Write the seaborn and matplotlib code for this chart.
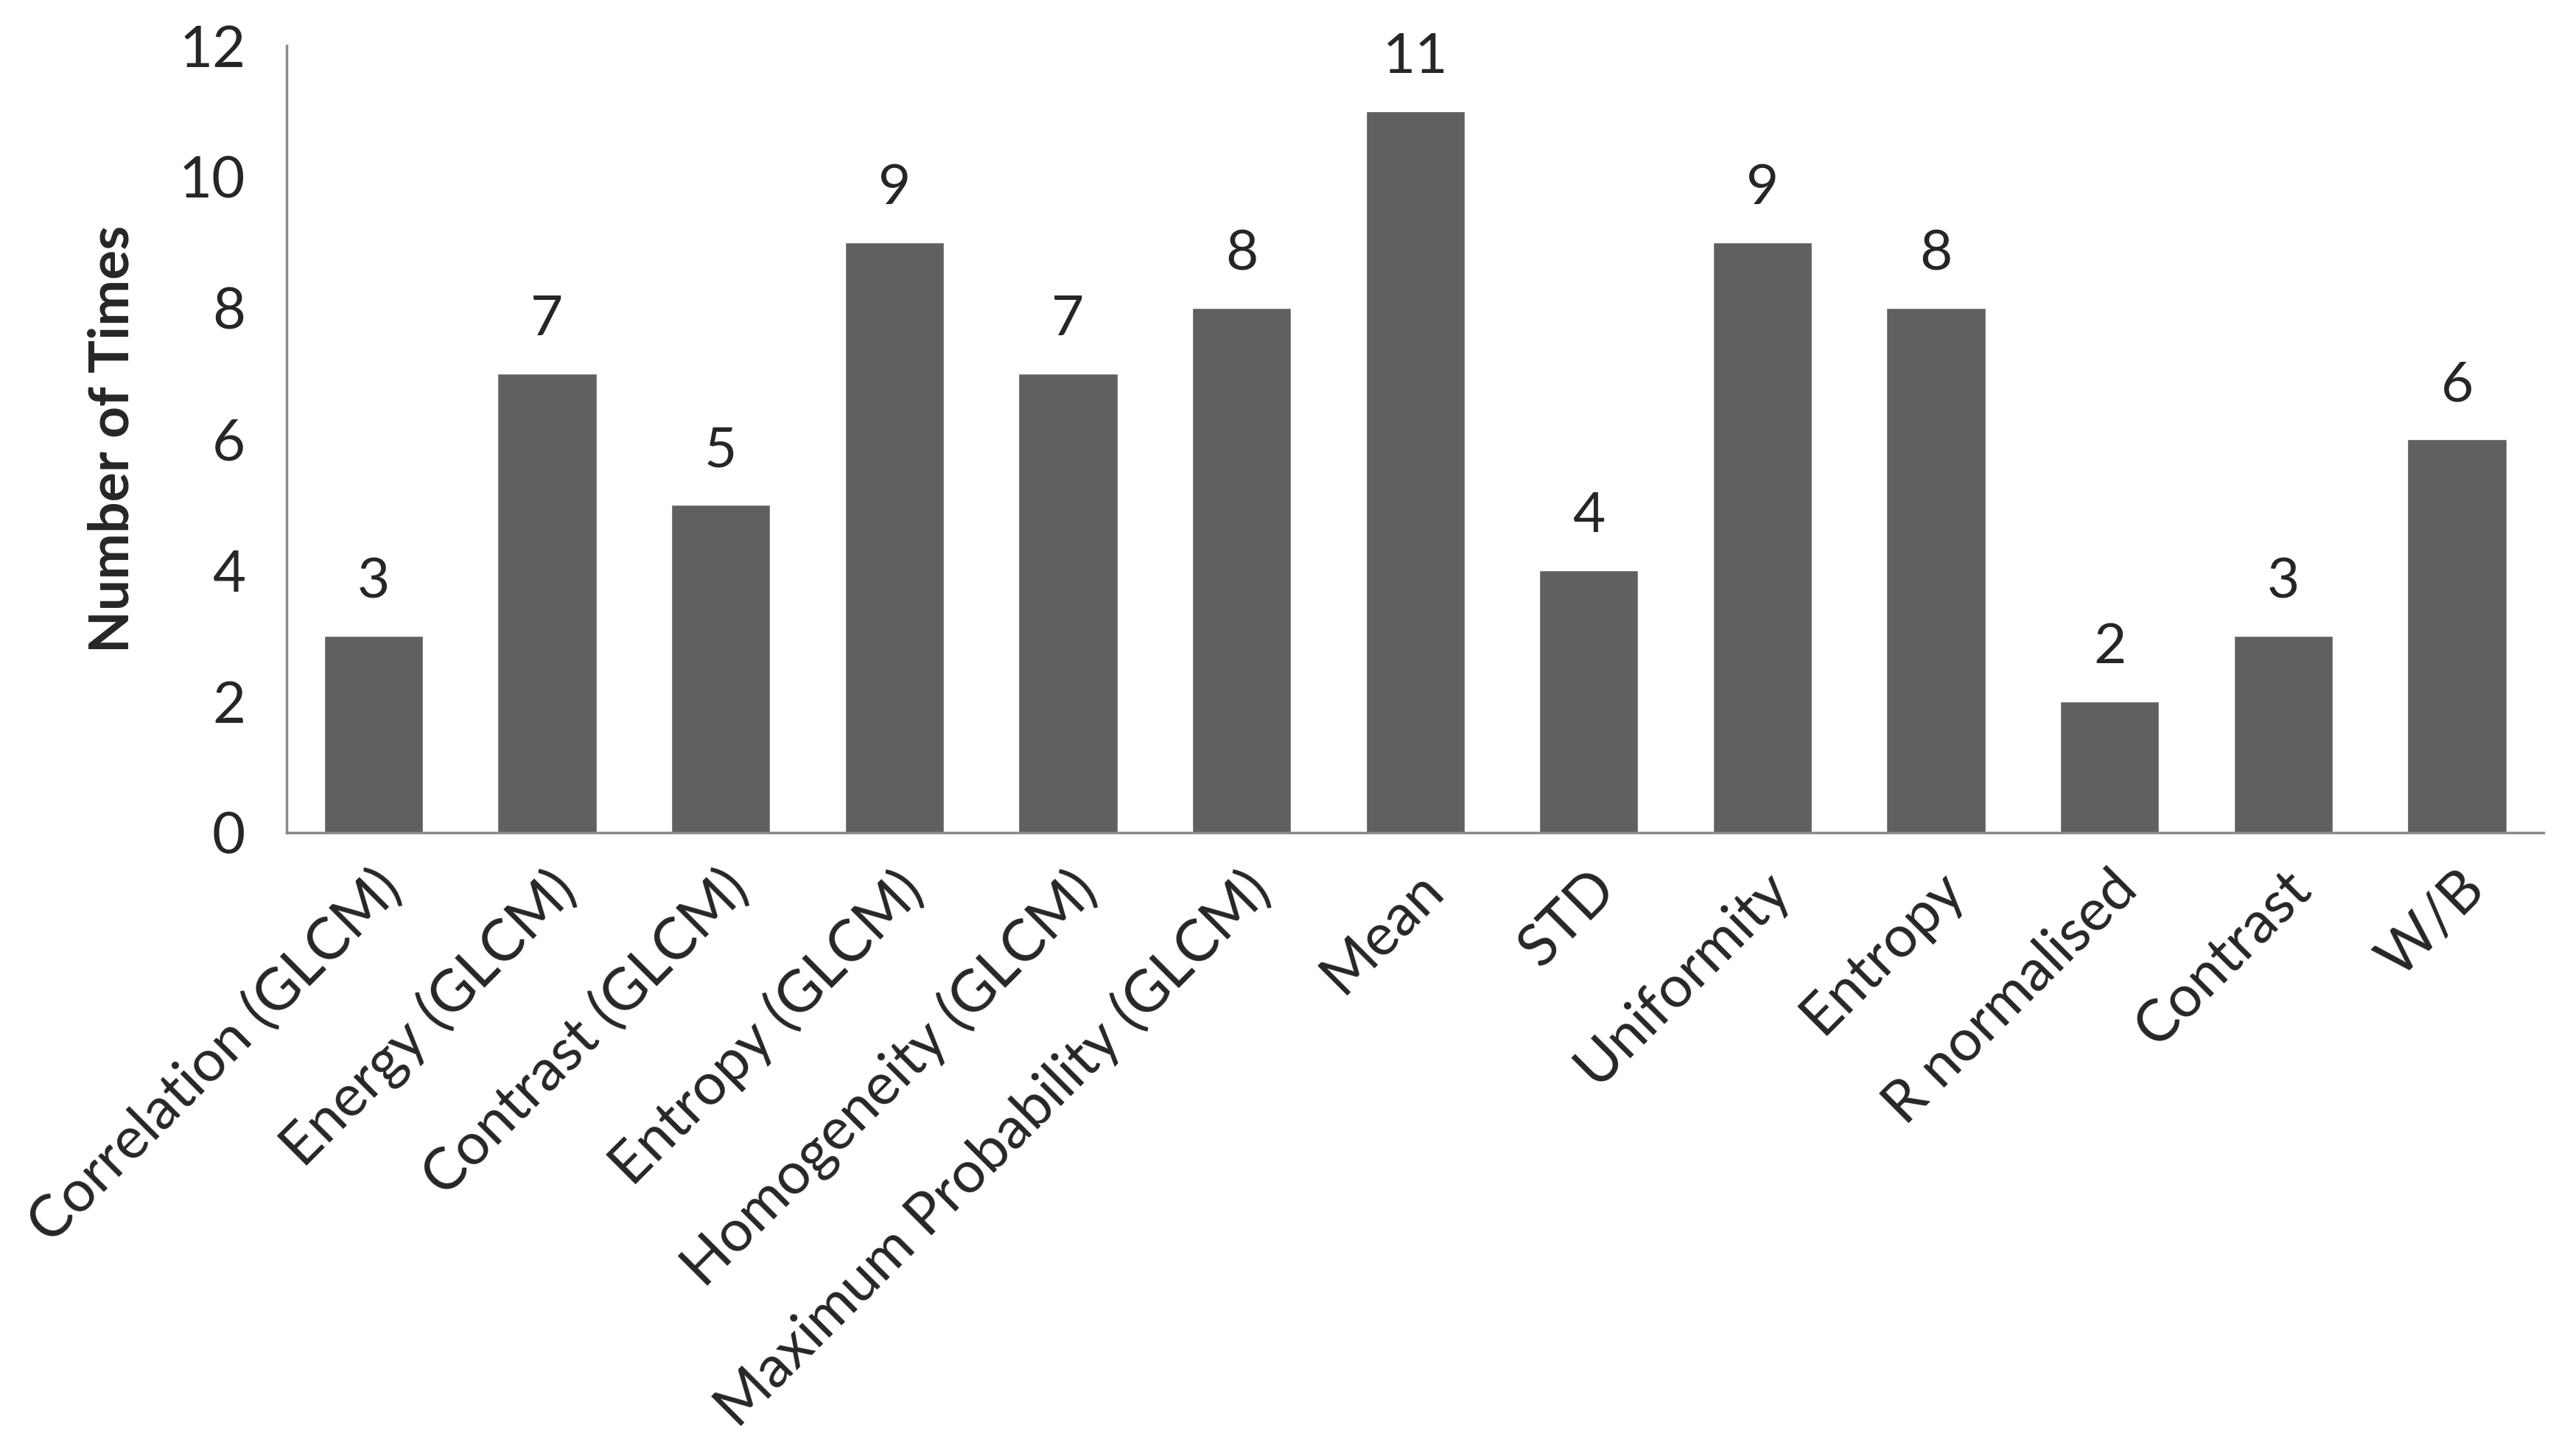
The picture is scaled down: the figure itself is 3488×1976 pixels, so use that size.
import numpy as np
import pandas as pd
import seaborn as sns
import matplotlib.pyplot as plt

# =========================
# DATA
# =========================
features = ['Correlation (GLCM)', 'Energy (GLCM)', 'Contrast (GLCM)', 'Entropy (GLCM)',
            'Homogeneity (GLCM)', 'Maximum Probability (GLCM)', 'Mean', 'STD',
            'Uniformity', 'Entropy', 'R normalised', 'Contrast', 'W/B']
counts = [3, 7, 5, 9, 7, 8, 11, 4, 9, 8, 2, 3, 6]
y_ticks = [0, 2, 4, 6, 8, 10, 12]

# =========================
# PLOT
# =========================
sns.set_style("white")
plt.rcParams['font.family'] = ['Lato', 'DejaVu Sans']

df = pd.DataFrame({'feature': features, 'count': counts})

fig = plt.figure(figsize=(34.88, 19.76), dpi=100)
ax = fig.add_axes([0.1115, 0.4281, 0.8783, 0.5405])

sns.barplot(data=df, x='feature', y='count', color='#606060', saturation=1,
            width=0.57, ax=ax)

ax.bar_label(ax.containers[0], fmt='%d', padding=28, fontsize=55)

ax.set_ylim(0, 12)
ax.set_yticks(y_ticks)
ax.set_xlim(-0.5, len(features) - 0.5)
ax.tick_params(axis='y', labelsize=56, length=0, pad=40)
ax.tick_params(axis='x', labelsize=57, length=0, pad=28)
plt.setp(ax.get_xticklabels(), rotation=45, ha='right', rotation_mode='anchor')

ax.set_xlabel('')
ax.set_ylabel('Number of Times', fontsize=54, fontweight='bold', labelpad=40)

for side in ['top', 'right']:
    ax.spines[side].set_visible(False)
for side in ['left', 'bottom']:
    ax.spines[side].set_color('#898989')
    ax.spines[side].set_linewidth(2.5)

plt.savefig('out.png', dpi=100)
plt.close()
